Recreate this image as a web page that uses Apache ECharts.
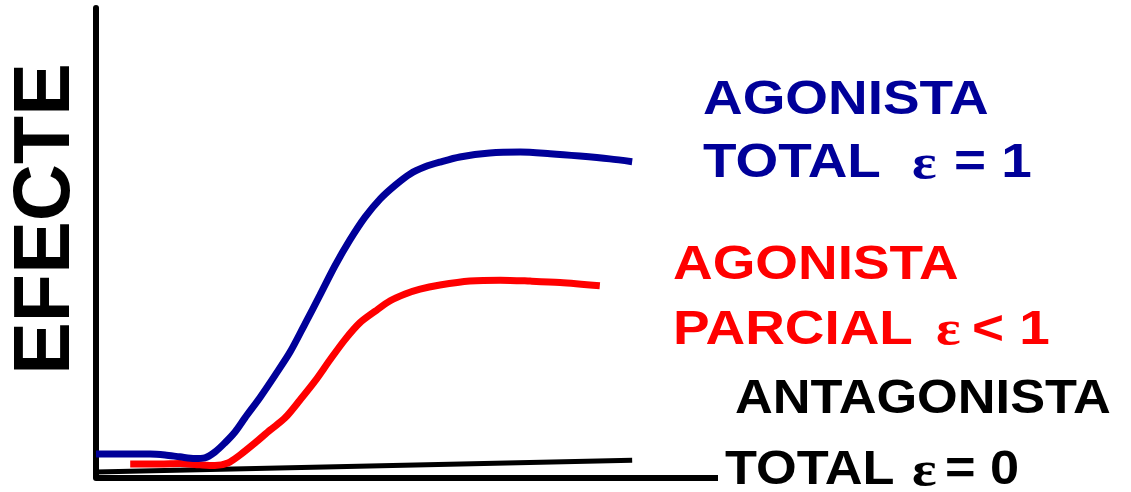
<!DOCTYPE html>
<html>
<head>
<meta charset="utf-8">
<style>
  html, body { margin: 0; padding: 0; background: #ffffff; }
  #chart { width: 1131px; height: 492px; }
</style>
<script src="https://cdn.jsdelivr.net/npm/echarts@6/dist/echarts.min.js"></script>
</head>
<body>
<div id="chart"></div>
<script>
// Dose (x) vs. effect (y), arbitrary units 0–100
const fullAgonist = [
  [0, 5.1], [3.9, 5.1], [8.7, 5.1], [11.1, 4.9], [13.5, 4.5], [15.9, 4.15],
  [17.5, 4.3], [19.1, 5.5], [20.7, 7.45], [22.35, 9.8], [23.95, 12.8],
  [26.4, 17.2], [28.8, 21.9], [31.2, 26.8], [33.6, 32.8], [36.0, 38.9],
  [38.4, 45.1], [40.8, 50.6], [43.25, 55.5], [45.7, 59.4], [48.1, 62.3],
  [50.5, 64.7], [52.9, 66.2], [55.3, 67.2], [58.5, 68.3], [63.3, 69.15],
  [68.2, 69.35], [73.0, 69.0], [77.8, 68.5], [82.6, 67.9], [86.2, 67.3]
];
const partialAgonist = [
  [5.5, 3.0], [10.3, 3.0], [13.5, 3.1], [16.7, 2.8], [19.1, 2.65],
  [21.2, 3.2], [23.15, 4.9], [25.55, 7.45], [28.0, 10.2], [30.4, 12.8],
  [32.8, 16.6], [35.2, 20.6], [37.6, 25.1], [40.0, 29.4], [42.4, 33.0],
  [44.9, 35.5], [47.3, 37.7], [49.7, 39.15], [52.1, 40.2], [55.3, 41.05],
  [60.1, 41.9], [65.0, 42.1], [69.8, 41.9], [74.6, 41.6], [81.0, 40.9]
];
const fullAntagonist = [[0, 1.3], [86.2, 3.8]];

const yAxisTitle = 'EFECTE';
const labelBlue = ['AGONISTA', 'TOTAL', '= 1'];
const labelRed = ['AGONISTA', 'PARCIAL', '< 1'];
const labelBlack = ['ANTAGONISTA', 'TOTAL', '= 0'];
const epsilon = 'ε';

const BLUE = '#000099';
const RED = '#ff0000';
const BLACK = '#000000';
const SANS = '"Liberation Sans", Arial, Helvetica, sans-serif';
const SERIF = '"Liberation Serif", "Times New Roman", serif';

function word(text, x, y, color, size, sx) {
  return {
    type: 'text', x: x, y: y, scaleX: sx || 1,
    style: {
      text: text, x: 0, y: 0, fill: color,
      font: 'bold ' + size + 'px ' + SANS,
      textAlign: 'left', textVerticalAlign: 'middle'
    }
  };
}
function eps(x, y, color) {
  return {
    type: 'text', x: x, y: y, scaleX: 1.15,
    style: {
      text: epsilon, x: 0, y: 0, fill: color,
      font: 'bold 50px ' + SERIF,
      textAlign: 'left', textVerticalAlign: 'middle'
    }
  };
}

const chart = echarts.init(document.getElementById('chart'), null, { renderer: 'canvas' });
chart.setOption({
  animation: false,
  backgroundColor: '#ffffff',
  grid: { left: 96, top: 8, width: 622, height: 470, containLabel: false },
  xAxis: {
    type: 'value', min: 0, max: 100,
    axisLine: { show: true, onZero: false, lineStyle: { color: BLACK, width: 6, cap: 'butt' } },
    axisTick: { show: false }, axisLabel: { show: false }, splitLine: { show: false }
  },
  yAxis: {
    type: 'value', min: 0, max: 100,
    axisLine: { show: true, onZero: false, lineStyle: { color: BLACK, width: 6 } },
    axisTick: { show: false }, axisLabel: { show: false }, splitLine: { show: false }
  },
  series: [
    {
      type: 'line', data: fullAntagonist, showSymbol: false, silent: true,
      lineStyle: { color: BLACK, width: 5 }
    },
    {
      type: 'line', data: partialAgonist, smooth: 0.3, showSymbol: false, silent: true,
      lineStyle: { color: RED, width: 7 }
    },
    {
      type: 'line', data: fullAgonist, smooth: 0.3, showSymbol: false, silent: true,
      lineStyle: { color: BLUE, width: 7 }
    }
  ],
  graphic: [
    {
      type: 'text', x: 47, y: 219, rotation: Math.PI / 2,
      style: {
        text: yAxisTitle, x: 0, y: 0, fill: BLACK,
        font: 'bold 79px ' + SANS, textAlign: 'center', textVerticalAlign: 'middle'
      }
    },
    word(labelBlue[0], 703, 100, BLUE, 49, 1.12),
    word(labelBlue[1], 703, 163, BLUE, 49, 1.12),
    eps(912, 166, BLUE),
    word(labelBlue[2], 954, 163, BLUE, 49, 1.12),

    word(labelRed[0], 673, 265, RED, 49, 1.12),
    word(labelRed[1], 673, 330, RED, 49, 1.12),
    eps(936, 332, RED),
    word(labelRed[2], 972, 330, RED, 49, 1.12),

    word(labelBlack[0], 735, 400, BLACK, 48, 1.09),
    word(labelBlack[1], 725, 471, BLACK, 48, 1.09),
    eps(912, 473, BLACK),
    word(labelBlack[2], 945, 471, BLACK, 48, 1.09)
  ]
});
</script>
</body>
</html>
